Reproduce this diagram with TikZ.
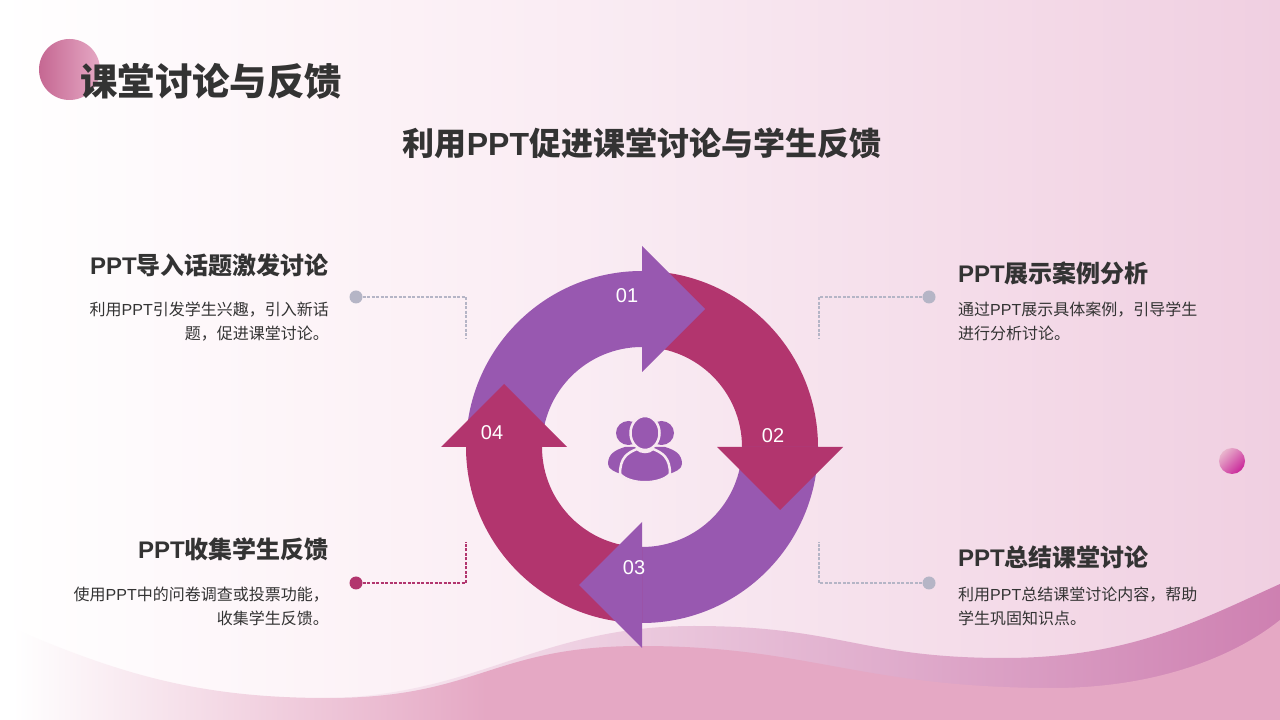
\documentclass[tikz,border=0pt]{standalone}
\usepackage{fontspec}
\setmainfont{Liberation Sans}
\newfontfamily\cjk{Noto Sans CJK SC}
\usetikzlibrary{positioning}
\definecolor{bgpink}{HTML}{F0CFE1}
\definecolor{bgmid}{HTML}{F9EAF2}
\definecolor{bgpale}{HTML}{FDF4F8}
\definecolor{wavepink}{HTML}{E5A8C4}
\definecolor{wavepale}{HTML}{F9ECF3}
\definecolor{bandpink}{HTML}{CE80B1}
\definecolor{ringpurple}{HTML}{9858B0}
\definecolor{ringred}{HTML}{B2356E}
\definecolor{dotgrey}{HTML}{B5B5C6}
\definecolor{iconhalo}{HTML}{F8E9F1}
\definecolor{textdark}{HTML}{333333}
\pgfdeclarehorizontalshading{pagewash}{100bp}{color(0bp)=(white);color(25bp)=(white);color(37bp)=(bgpale);color(50bp)=(bgmid);color(75bp)=(bgpink);color(100bp)=(bgpink)}
\pgfdeclarehorizontalshading{wavewash}{100bp}{color(0bp)=(white);color(25.5bp)=(white);color(44bp)=(wavepink);color(100bp)=(wavepink)}
\newcommand{\ppt}{{\fontspec{Liberation Sans}PPT}}
\tikzstyle{heading} = [text=textdark,font=\cjk\bfseries\fontsize{24}{28}\selectfont,inner sep=0pt]
\tikzstyle{bodyleft} = [text=textdark,font=\cjk\fontsize{16}{23.5}\selectfont,inner sep=0pt,align=right,anchor=north east]
\tikzstyle{bodyright} = [text=textdark,font=\cjk\fontsize{16}{23.5}\selectfont,inner sep=0pt,align=left,anchor=north west]
\tikzstyle{dot} = [circle,minimum size=13pt,inner sep=0pt]
\tikzstyle{leader} = [draw,dash pattern=on 3pt off 1.5pt,line width=1.2pt]
\tikzstyle{number} = [text=white,font=\fontsize{20}{24}\selectfont,inner sep=0pt]
\begin{document}
\begin{tikzpicture}[x=1pt,y=1pt]
  \useasboundingbox (0,0) rectangle (1280,720);
  % background
  \shade[shading=pagewash] (0,0) rectangle (1280,720);
  % waves
  \shade[left color=wavepale,right color=bandpink]
    (330,22) .. controls (480,26) and (540,94) .. (694,94)
    .. controls (840,94) and (860,62) .. (1004,62)
    .. controls (1130,62) and (1200,100) .. (1280,136)
    -- (1280,0) -- (330,0) -- cycle;
  \shade[shading=wavewash]
    (0,97) .. controls (110,50) and (190,22) .. (327,22)
    .. controls (480,22) and (490,74) .. (641,74)
    .. controls (810,74) and (860,32) .. (1053,32)
    .. controls (1150,32) and (1230,60) .. (1280,100)
    -- (1280,0) -- (0,0) -- cycle;
  % decoration
  \shade[left color=ringred!75!white,right color=wavepink] (69.5,650.5) circle (30.5);
  \shade[top color=wavepink!85!white,bottom color=ringred!70!magenta,shading angle=45] (1232,259) circle (13);
  % headings
  \node[heading,font=\cjk\bfseries\fontsize{37.4}{40}\selectfont,anchor=west] (title) at (80,639) {课堂讨论与反馈};
  \node[heading,font=\cjk\bfseries\fontsize{32}{36}\selectfont] (subtitle) at (642,576.5) {利用{\bfseries\ppt}促进课堂讨论与学生反馈};
  % left blocks
  \node[heading,anchor=east] (topic) at (329,454.5) {{\bfseries\ppt}导入话题激发讨论};
  \node[bodyleft] (topicbody) at (329,418) {利用\ppt 引发学生兴趣，引入新话\\题，促进课堂讨论。};
  \node[heading,anchor=east] (collect) at (329,170.5) {{\bfseries\ppt}收集学生反馈};
  \node[bodyleft] (collectbody) at (329,133) {使用\ppt 中的问卷调查或投票功能，\\收集学生反馈。};
  % right blocks
  \node[heading,anchor=west] (cases) at (958,447) {{\bfseries\ppt}展示案例分析};
  \node[bodyright] (casesbody) at (958,418) {通过\ppt 展示具体案例，引导学生\\进行分析讨论。};
  \node[heading,anchor=west] (summary) at (958,162.5) {{\bfseries\ppt}总结课堂讨论};
  \node[bodyright] (summarybody) at (958,133) {利用\ppt 总结课堂讨论内容，帮助\\学生巩固知识点。};
  % dots and leaders
  \node[dot,fill=dotgrey] (dota) at (356,423) {};
  \node[dot,fill=dotgrey] (dotb) at (929,423) {};
  \node[dot,fill=ringred] (dotc) at (356,137) {};
  \node[dot,fill=dotgrey] (dotd) at (929,137) {};
  \coordinate (enda) at (466,382);
  \coordinate (endb) at (819,382);
  \coordinate (endc) at (466,178);
  \coordinate (endd) at (819,178);
  \draw[leader,dotgrey] (dota) -| (enda);
  \draw[leader,dotgrey] (dotb) -| (endb);
  \draw[leader,ringred] (dotc) -| (endc);
  \draw[leader,dotgrey] (dotd) -| (endd);
  % ring
  \begin{scope}[shift={(642,273)}]
    \foreach \angle/\colour in {0/ringpurple,-90/ringred,-180/ringpurple,-270/ringred}
    {
      \fill[\colour,rotate=\angle] (-176,0) arc (180:90:176) -- (0,100) arc (90:180:100) -- cycle;
    };
    \foreach \angle/\colour in {0/ringpurple,-90/ringred,-180/ringpurple,-270/ringred}
    {
      \fill[\colour,rotate=\angle] (0,201) -- (63,138) -- (0,75) -- cycle;
    };
  \end{scope}
  % people icon
  \begin{scope}[shift={(645,270)}]
    \fill[ringpurple] (-16.5,17) ellipse (12.5 and 12);
    \fill[ringpurple] (16.5,17) ellipse (12.5 and 12);
    \fill[ringpurple] (-37,-14) .. controls (-37,-4) and (-30,0) .. (-20,3) -- (20,3) .. controls (30,0) and (37,-4) .. (37,-14) .. controls (37,-19) and (30,-22) .. (24,-24) -- (-24,-24) .. controls (-30,-22) and (-37,-19) .. (-37,-14) -- cycle;
    \filldraw[fill=ringpurple,draw=iconhalo,line width=2.5pt] (-25,-24) .. controls (-25,-8) and (-18,-3) .. (-8,1) .. controls (-4,-3) and (4,-3) .. (8,1) .. controls (18,-3) and (25,-8) .. (25,-24) .. controls (15,-35) and (-15,-35) .. (-25,-24) -- cycle;
    \filldraw[fill=ringpurple,draw=iconhalo,line width=2.5pt] (0,17) ellipse (14.5 and 17);
  \end{scope}
  % numbers
  \node[number] (numa) at (627,424.5) {01};
  \node[number] (numb) at (773,284) {02};
  \node[number] (numc) at (634,152) {03};
  \node[number] (numd) at (492,287) {04};
\end{tikzpicture}
\end{document}
